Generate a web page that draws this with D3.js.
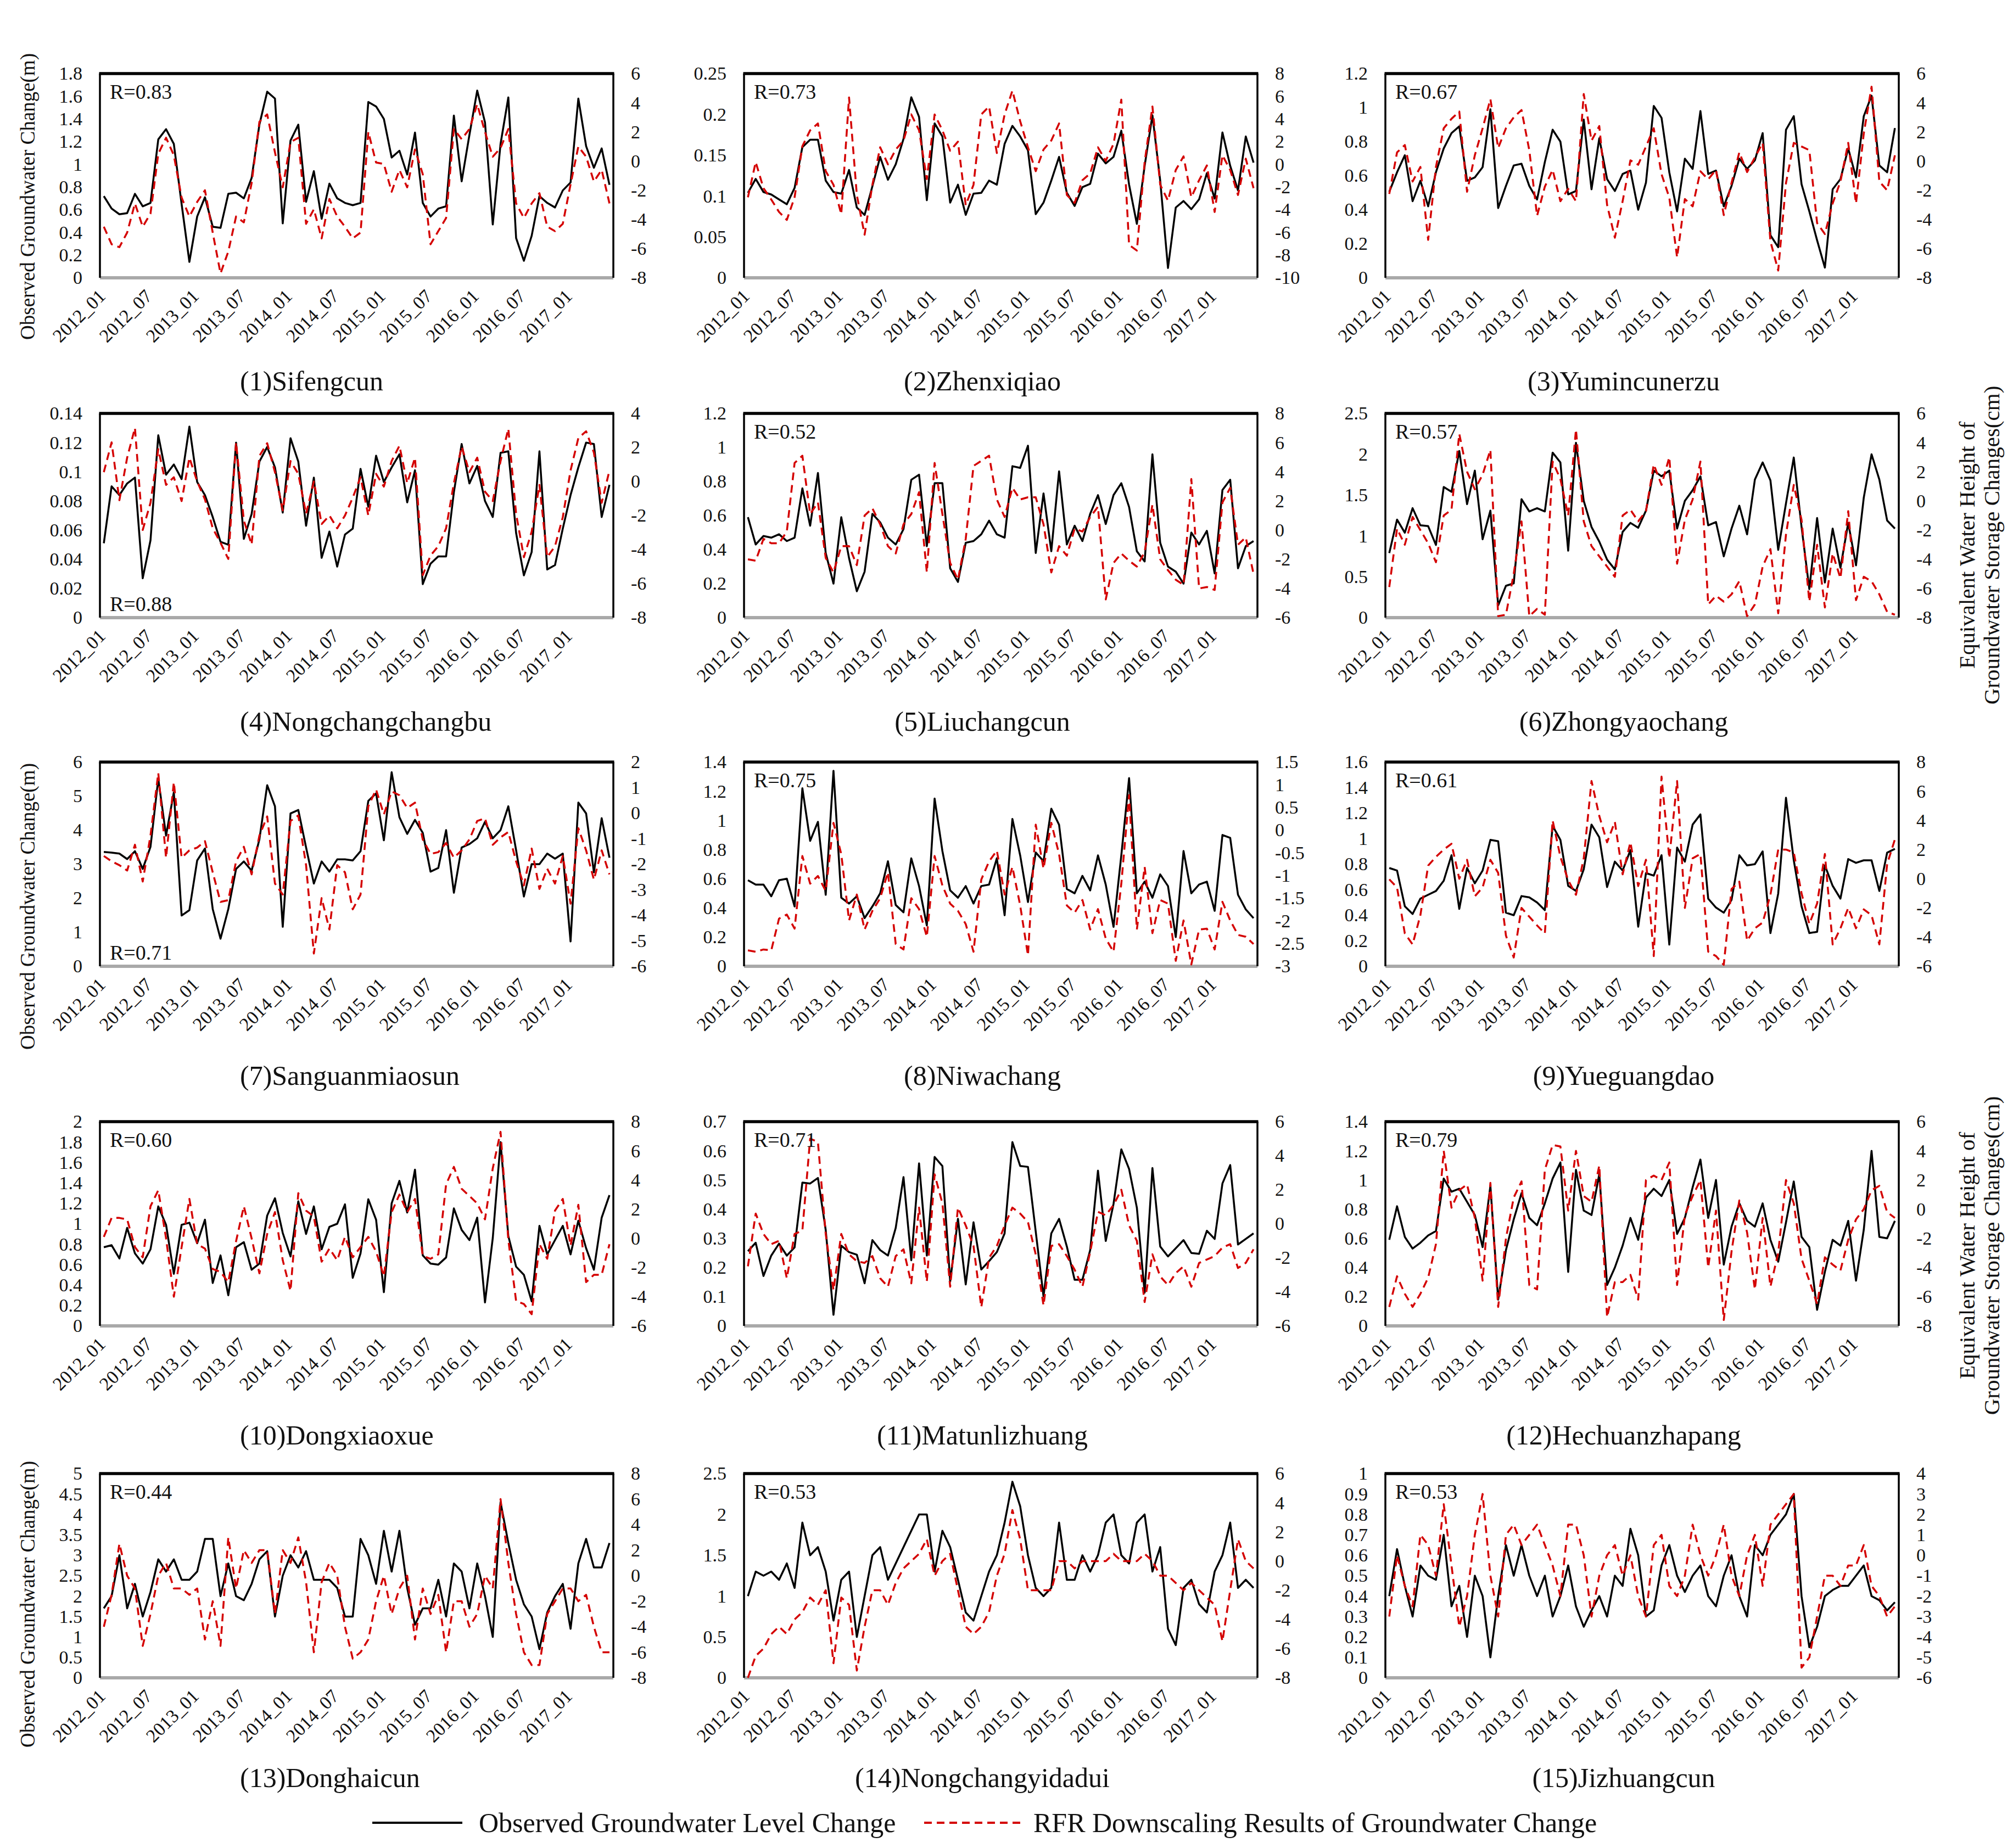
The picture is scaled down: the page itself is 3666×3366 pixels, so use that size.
<!DOCTYPE html>
<html><head><meta charset="utf-8">
<script src="https://cdn.jsdelivr.net/npm/d3@7"></script>
<style>
body{margin:0;background:#fff}
svg{display:block;background:#fff}
text{font-family:"Liberation Serif","Times New Roman",serif;fill:#111}
</style></head>
<body><svg id="c" width="3666" height="3366"></svg>
<script>
const months = ["2012_01","2012_02","2012_03","2012_04","2012_05","2012_06","2012_07","2012_08","2012_09","2012_10","2012_11","2012_12",
"2013_01","2013_02","2013_03","2013_04","2013_05","2013_06","2013_07","2013_08","2013_09","2013_10","2013_11","2013_12",
"2014_01","2014_02","2014_03","2014_04","2014_05","2014_06","2014_07","2014_08","2014_09","2014_10","2014_11","2014_12",
"2015_01","2015_02","2015_03","2015_04","2015_05","2015_06","2015_07","2015_08","2015_09","2015_10","2015_11","2015_12",
"2016_01","2016_02","2016_03","2016_04","2016_05","2016_06","2016_07","2016_08","2016_09","2016_10","2016_11","2016_12",
"2017_01","2017_02","2017_03","2017_04","2017_05","2017_06"];
const tickMonths = ["2012_01","2012_07","2013_01","2013_07","2014_01","2014_07","2015_01","2015_07","2016_01","2016_07","2017_01"];

const stationNames = ["Sifengcun","Zhenxiqiao","Yumincunerzu","Nongchangchangbu","Liuchangcun","Zhongyaochang","Sanguanmiaosun","Niwachang","Yueguangdao","Dongxiaoxue","Matunlizhuang","Hechuanzhapang","Donghaicun","Nongchangyidadui","Jizhuangcun"];
const rValues = ["0.83","0.73","0.67","0.88","0.52","0.57","0.71","0.75","0.61","0.60","0.71","0.79","0.44","0.53","0.53"];

const leftMax   = [1.8,0.25,1.2,0.14,1.2,2.5,6,1.4,1.6,2,0.7,1.4,5,2.5,1];
const leftStep  = [0.2,0.05,0.2,0.02,0.2,0.5,1,0.2,0.2,0.2,0.1,0.2,0.5,0.5,0.1];
const rightMin  = [-8,-10,-8,-8,-6,-8,-6,-3,-6,-6,-6,-8,-8,-8,-6];
const rightMax  = [6,8,6,4,8,6,2,1.5,8,8,6,6,8,6,4];
const rightStep = [2,2,2,2,2,2,1,0.5,2,2,2,2,2,2,1];

const obs1 = [0.72,0.61,0.56,0.57,0.74,0.63,0.66,1.22,1.31,1.18,0.65,0.14,0.54,0.71,0.45,0.44,0.74,0.75,0.70,0.88,1.35,1.64,1.58,0.48,1.21,1.35,0.67,0.94,0.52,0.83,0.70,0.66,0.64,0.66,1.55,1.51,1.40,1.06,1.12,0.91,1.28,0.66,0.54,0.61,0.63,1.43,0.85,1.26,1.65,1.37,0.47,1.18,1.59,0.35,0.15,0.37,0.72,0.66,0.62,0.77,0.84,1.58,1.16,0.97,1.14,0.82];
const rfr1 = [-4.5,-5.7,-5.9,-4.9,-2.9,-4.5,-3.6,0.5,1.6,0.4,-2.5,-3.8,-2.8,-2.0,-4.9,-7.7,-6.2,-3.8,-4.2,-1.5,2.7,3.2,0.6,-1.8,1.3,1.6,-4.3,-3.3,-5.3,-2.6,-3.8,-4.5,-5.3,-4.9,2.0,-0.1,-0.2,-2.1,-0.6,-1.8,0.8,-0.9,-5.7,-4.8,-3.9,2.2,1.5,2.2,3.9,2.0,0.3,0.9,2.2,-2.9,-3.9,-2.9,-2.2,-4.5,-4.8,-4.3,-1.6,1.0,0.3,-1.4,-0.6,-2.9];
const obs2 = [0.104,0.121,0.105,0.102,0.096,0.090,0.110,0.160,0.169,0.169,0.119,0.105,0.103,0.132,0.086,0.077,0.112,0.148,0.120,0.139,0.170,0.221,0.197,0.095,0.189,0.173,0.092,0.114,0.077,0.103,0.104,0.119,0.114,0.164,0.186,0.173,0.156,0.078,0.092,0.119,0.148,0.104,0.088,0.111,0.115,0.152,0.140,0.148,0.180,0.114,0.066,0.137,0.199,0.119,0.012,0.086,0.094,0.084,0.096,0.128,0.097,0.178,0.137,0.107,0.173,0.141];
const rfr2 = [-2.9,0.2,-2.1,-3.1,-4.2,-4.9,-2.9,1.6,3.0,3.6,-0.6,-1.8,-4.4,5.9,-2.7,-6.2,-1.8,1.5,0.0,1.3,2.1,4.4,3.0,-1.3,4.4,3.0,1.2,2.0,-3.6,-1.8,4.4,5.1,1.0,4.4,6.5,3.8,1.5,-0.6,1.3,2.1,3.6,-2.7,-3.4,-1.4,-0.8,1.5,0.3,1.8,5.7,-7.1,-7.6,0.2,5.1,-1.8,-3.2,-0.5,0.7,-2.9,-1.4,-0.1,-4.2,0.8,-0.5,-2.7,0.5,-2.1];
const obs3 = [0.505,0.62,0.72,0.45,0.57,0.42,0.62,0.76,0.85,0.89,0.57,0.59,0.65,0.99,0.41,0.54,0.66,0.67,0.54,0.46,0.68,0.87,0.80,0.49,0.51,0.93,0.52,0.82,0.58,0.51,0.61,0.63,0.40,0.56,1.01,0.94,0.62,0.39,0.70,0.64,0.98,0.61,0.63,0.42,0.54,0.70,0.64,0.69,0.85,0.25,0.18,0.87,0.95,0.55,0.39,0.22,0.06,0.52,0.58,0.76,0.59,0.95,1.07,0.66,0.62,0.88];
const rfr3 = [-2.25,0.6,1.1,-1.4,-0.4,-5.4,-0.4,2.25,2.9,3.4,-2.1,0.4,2.25,4.25,0.9,2.25,3.0,3.5,0.75,-3.75,-1.75,-0.6,-2.75,-1.9,-2.75,4.6,1.4,2.4,-3.0,-5.25,-2.75,0.05,-0.25,1.0,2.25,-0.9,-2.5,-6.6,-2.6,-3.1,-0.7,-1.25,-0.6,-3.7,-1.5,0.6,-0.75,0.25,1.25,-5.5,-7.5,-1.5,1.25,1.0,0.75,-4.25,-5.0,-2.9,-1.4,1.25,-2.9,1.9,5.1,-1.4,-2.0,0.4];
const obs4 = [0.051,0.090,0.084,0.092,0.096,0.027,0.053,0.125,0.098,0.105,0.095,0.131,0.093,0.084,0.069,0.052,0.050,0.120,0.054,0.071,0.107,0.117,0.103,0.072,0.123,0.107,0.063,0.096,0.041,0.059,0.035,0.057,0.061,0.102,0.076,0.111,0.093,0.103,0.112,0.079,0.101,0.023,0.037,0.042,0.042,0.086,0.119,0.092,0.104,0.080,0.069,0.113,0.114,0.058,0.029,0.045,0.114,0.033,0.036,0.061,0.084,0.103,0.120,0.119,0.069,0.091];
const rfr4 = [0.55,2.3,-1.1,1.4,3.15,-2.85,-1.25,1.9,-0.2,0.25,-1.15,1.4,0.0,-1.05,-2.75,-3.6,-4.55,2.3,-2.3,-3.7,1.5,2.25,0.55,-1.7,1.2,0.45,-1.9,0.0,-2.5,-2.0,-2.75,-2.0,-0.95,0.25,-2.0,0.45,-0.3,1.2,2.1,-0.1,1.4,-5.5,-4.35,-3.8,-2.75,-0.1,2.05,0.55,1.4,-0.6,-1.15,1.2,3.1,-1.9,-4.45,-2.95,-0.2,-4.45,-3.8,-2.1,0.65,2.55,2.95,1.7,-1.25,0.65];
const obs5 = [0.59,0.43,0.48,0.47,0.49,0.45,0.47,0.76,0.54,0.85,0.38,0.20,0.59,0.35,0.155,0.27,0.61,0.56,0.47,0.43,0.52,0.81,0.84,0.42,0.79,0.79,0.29,0.21,0.44,0.45,0.49,0.57,0.49,0.47,0.89,0.88,1.01,0.38,0.73,0.39,0.86,0.43,0.54,0.45,0.61,0.72,0.55,0.72,0.79,0.65,0.39,0.33,0.96,0.44,0.30,0.27,0.20,0.50,0.43,0.51,0.26,0.75,0.81,0.29,0.42,0.45];
const rfr5 = [-2.0,-2.1,-0.6,-0.9,-0.9,-0.1,4.6,5.1,1.1,1.9,-1.9,-2.9,-1.1,-1.1,-2.4,1.0,1.5,0.4,-1.1,-1.6,0.4,1.1,2.6,-2.9,4.6,1.1,-2.25,-3.4,-0.6,4.4,4.75,5.1,2.1,0.9,2.9,2.1,2.25,2.25,0.4,-2.9,-1.1,-1.75,0.1,-0.1,0.9,1.6,-4.75,-2.25,-1.6,-2.1,-2.5,-1.5,1.75,-2.0,-2.75,-3.4,-3.75,3.5,-4.0,-3.9,-4.1,1.9,2.9,-1.0,-0.5,-3.0];
const obs6 = [0.79,1.20,1.04,1.34,1.13,1.12,0.89,1.60,1.54,2.04,1.39,1.80,0.96,1.31,0.15,0.39,0.42,1.45,1.30,1.34,1.30,2.02,1.90,0.82,2.14,1.43,1.11,0.93,0.71,0.59,1.05,1.16,1.10,1.31,1.80,1.73,1.80,1.09,1.43,1.56,1.73,1.13,1.17,0.75,1.09,1.37,1.02,1.69,1.90,1.68,0.83,1.40,1.96,1.11,0.35,1.22,0.43,1.09,0.61,1.16,0.64,1.47,2.00,1.69,1.19,1.09];
const rfr6 = [-5.9,-1.9,-3.0,-1.1,-2.0,-2.9,-4.2,-1.0,-0.6,4.6,2.0,0.8,1.8,3.5,-7.9,-7.8,-5.0,-1.4,-7.9,-7.4,-7.8,2.7,1.5,-1.0,4.9,-1.4,-3.1,-3.8,-4.5,-5.2,-1.0,-0.6,-1.4,-0.7,2.5,1.1,3.0,-4.3,-1.3,0.1,2.7,-7.1,-6.5,-6.9,-6.4,-5.5,-7.9,-7.1,-4.5,-3.3,-7.7,-2.3,1.1,-1.3,-6.9,-3.0,-7.3,-3.6,-5.3,-0.7,-6.8,-5.2,-5.5,-6.4,-7.6,-7.8];
const obs7 = [3.36,3.34,3.31,3.15,3.38,2.86,3.51,5.51,3.84,5.11,1.49,1.65,3.11,3.46,1.68,0.81,1.68,2.86,3.08,2.81,3.73,5.32,4.70,1.16,4.49,4.59,3.49,2.43,3.08,2.78,3.14,3.14,3.11,3.38,4.86,5.08,3.70,5.70,4.38,3.89,4.30,3.92,2.78,2.89,4.00,2.16,3.49,3.59,3.76,4.24,3.76,4.00,4.70,3.41,2.05,3.00,3.00,3.31,3.16,3.31,0.73,4.81,4.49,2.76,4.35,3.19];
const rfr7 = [-1.68,-1.89,-2.04,-2.25,-1.24,-2.68,-0.88,1.57,-1.75,1.21,-1.75,-1.46,-1.35,-1.10,-2.32,-3.48,-3.41,-1.89,-1.32,-2.40,-0.88,-0.13,-2.76,-3.19,-0.31,-0.09,-2.04,-5.50,-3.33,-4.56,-2.04,-2.32,-3.77,-3.19,0.27,0.92,-0.05,0.85,0.70,0.20,0.41,-1.03,-1.60,-1.53,-1.17,-1.75,-1.46,-1.03,-0.31,-0.20,-1.24,-0.95,-0.74,-1.89,-2.83,-1.39,-2.97,-2.18,-2.76,-1.68,-3.55,-0.59,-1.46,-2.61,-1.46,-2.40];
const obs8 = [0.59,0.56,0.56,0.48,0.59,0.60,0.41,1.22,0.86,0.99,0.49,1.34,0.47,0.43,0.48,0.33,0.41,0.50,0.72,0.42,0.37,0.74,0.55,0.28,1.15,0.79,0.52,0.47,0.55,0.43,0.55,0.56,0.74,0.35,1.01,0.76,0.44,0.78,0.72,1.08,0.97,0.53,0.50,0.62,0.52,0.76,0.56,0.27,0.76,1.29,0.50,0.58,0.47,0.63,0.55,0.20,0.79,0.50,0.56,0.58,0.38,0.90,0.88,0.49,0.39,0.33];
const rfr8 = [-2.65,-2.68,-2.63,-2.65,-1.95,-1.86,-2.17,-0.57,-1.18,-1.01,-1.34,0.16,-0.53,-1.99,-1.42,-2.19,-1.78,-1.50,-0.93,-2.51,-2.63,-1.50,-1.74,-2.35,-0.57,-1.22,-1.62,-1.78,-2.07,-2.68,-1.09,-0.69,-0.45,-1.42,-0.81,-1.66,-2.76,0.12,-0.85,0.16,-0.53,-1.66,-1.82,-1.54,-2.19,-1.74,-2.39,-2.68,-1.18,0.77,-2.19,-0.81,-2.27,-1.54,-1.62,-2.88,-1.99,-2.96,-2.19,-2.17,-2.63,-1.58,-1.99,-2.31,-2.35,-2.51];
const obs9 = [0.77,0.75,0.47,0.41,0.53,0.56,0.59,0.67,0.87,0.45,0.77,0.65,0.75,0.99,0.98,0.42,0.40,0.55,0.54,0.50,0.44,1.10,0.99,0.63,0.59,0.76,1.11,1.01,0.62,0.82,0.75,0.91,0.31,0.73,0.71,0.87,0.17,0.93,0.82,1.11,1.19,0.53,0.46,0.42,0.52,0.87,0.79,0.80,0.90,0.26,0.57,1.32,0.83,0.47,0.26,0.27,0.79,0.63,0.53,0.84,0.81,0.83,0.83,0.59,0.89,0.92];
const rfr9 = [-0.04,-0.6,-3.75,-4.5,-2.5,0.9,1.5,2.0,2.4,0.0,1.3,-1.2,-0.6,1.3,0.4,-3.9,-5.4,-2.0,-2.6,-3.2,-3.75,4.0,1.5,-0.1,-1.1,1.4,6.7,4.3,2.5,3.9,0.3,2.5,-0.5,1.3,-5.3,7.0,1.4,6.7,-2.0,1.4,1.7,-5.0,-5.3,-5.9,-0.7,-0.2,-4.25,-3.4,-3.0,-1.1,2.0,2.0,1.8,-1.0,-3.1,-1.7,1.7,-4.5,-3.4,-2.0,-3.4,-2.1,-2.5,-4.5,1.0,2.7];
const obs10 = [0.77,0.79,0.66,0.96,0.71,0.61,0.75,1.17,0.99,0.51,0.99,1.01,0.81,1.04,0.42,0.69,0.30,0.77,0.82,0.55,0.61,1.08,1.25,0.91,0.68,1.22,0.90,1.17,0.75,0.97,1.00,1.19,0.47,0.71,1.24,1.04,0.33,1.20,1.42,1.11,1.53,0.69,0.61,0.60,0.67,1.15,0.94,0.84,1.06,0.23,0.86,1.80,0.88,0.58,0.50,0.24,0.98,0.70,0.84,0.98,0.70,1.03,0.76,0.55,1.06,1.28];
const rfr10 = [0.1,1.4,1.4,1.3,-0.6,-1.3,2.2,3.3,0.0,-4.0,-0.6,2.7,-0.4,-0.7,-2.1,-2.3,-3.0,-0.2,2.2,0.0,-2.4,0.3,1.8,-1.5,-3.6,3.1,1.9,1.5,-1.6,-0.7,-1.5,0.1,-1.3,-0.6,0.1,-0.9,-2.6,1.8,3.0,1.8,2.7,-1.2,-1.4,-1.1,3.7,4.9,3.4,2.9,2.4,1.3,4.8,7.3,-0.1,-4.3,-4.5,-5.2,-0.4,-1.4,1.9,2.7,-0.5,2.3,-3.0,-2.5,-2.5,-0.4];
const obs11 = [0.256,0.285,0.171,0.241,0.282,0.241,0.269,0.491,0.488,0.507,0.329,0.038,0.275,0.253,0.244,0.146,0.294,0.260,0.241,0.336,0.510,0.225,0.557,0.241,0.579,0.548,0.152,0.367,0.142,0.355,0.193,0.222,0.253,0.317,0.630,0.548,0.545,0.323,0.101,0.317,0.367,0.272,0.158,0.158,0.260,0.532,0.291,0.418,0.605,0.538,0.405,0.114,0.541,0.272,0.238,0.266,0.294,0.250,0.247,0.326,0.298,0.488,0.551,0.279,0.298,0.317];
const rfr11 = [-2.5,0.6,-0.6,-1.2,-1.0,-3.2,-0.6,-0.4,5.0,4.8,-0.6,-3.9,-0.6,-1.8,-2.2,-2.3,-1.9,-3.2,-3.7,-1.9,-1.5,-3.5,0.95,-3.4,2.9,1.2,-3.7,0.95,-0.1,-1.3,-4.9,-2.0,-1.3,-0.1,0.95,0.6,0.1,-1.8,-4.8,-1.3,-1.2,-1.9,-2.7,-3.7,-1.65,0.7,0.5,1.1,2.0,-0.1,-1.0,-4.6,-1.8,-3.1,-3.6,-2.9,-2.5,-3.7,-2.3,-2.1,-1.9,-1.4,-1.2,-2.6,-2.3,-1.5];
const obs12 = [0.59,0.82,0.61,0.53,0.57,0.62,0.65,1.01,0.92,0.94,0.85,0.76,0.54,0.96,0.18,0.52,0.73,0.91,0.74,0.69,0.84,1.01,1.12,0.37,1.07,0.79,0.76,1.04,0.28,0.40,0.55,0.74,0.59,0.88,0.94,0.89,1.00,0.63,0.74,0.95,1.14,0.74,1.00,0.42,0.68,0.84,0.72,0.68,0.84,0.59,0.44,0.71,0.99,0.61,0.54,0.11,0.37,0.59,0.55,0.72,0.31,0.66,1.20,0.61,0.60,0.72];
const rfr12 = [-6.7,-4.6,-5.8,-6.7,-5.8,-4.7,-2.4,4.0,0.1,1.3,1.7,-0.6,-4.9,1.8,-6.7,-2.0,0.8,1.9,-5.2,-5.5,2.7,4.4,4.3,-0.1,4.0,0.9,0.5,3.0,-7.4,-5.0,-5.0,-4.5,-6.2,2.0,2.3,2.0,3.2,-5.2,-0.4,0.9,2.0,-4.0,-0.1,-7.6,-2.9,0.6,-1.6,-5.5,-0.6,-5.3,-3.0,2.0,0.4,-3.4,-4.9,-6.5,-3.3,-3.8,-4.2,-2.1,-0.7,0.0,1.3,1.6,-0.2,-0.6];
const obs13 = [1.7,2.0,3.0,1.7,2.3,1.5,2.1,2.9,2.6,2.9,2.4,2.4,2.6,3.4,3.4,2.0,2.8,2.0,1.9,2.3,2.9,3.1,1.5,2.5,3.0,2.7,3.1,2.4,2.4,2.4,2.2,1.5,1.5,3.4,3.0,2.3,3.6,2.6,3.6,2.2,1.3,1.7,1.7,2.4,1.5,2.8,2.6,1.7,2.8,2.0,1.0,4.3,3.3,2.4,1.8,1.5,0.7,1.6,2.0,2.3,1.2,2.8,3.4,2.7,2.7,3.3];
const rfr13 = [-4,-1.5,2.5,0,-1,-5.5,-3,0,1,-1,-1,-1.5,-1,-5,-2,-5.5,3,-1,2,1,2,2,-3,2,1,3,-0.5,-6,-0.5,1,0,-4,-6.5,-6,-5,-2,0,-3,-1,0,-5,-1,-3,-1.5,-6,-2,-2,-4,-3,0,-1,6,1,-3,-6,-7,-7,-3,-2,-1,-1,-2,-1.5,-4,-6,-6];
const obs14 = [1.0,1.3,1.25,1.3,1.2,1.4,1.1,1.9,1.5,1.6,1.3,0.7,1.2,1.3,0.5,1.0,1.5,1.6,1.2,1.4,1.6,1.8,2.0,2.0,1.3,1.8,1.6,1.2,0.8,0.7,1.0,1.3,1.5,1.9,2.4,2.1,1.5,1.1,1.0,1.1,1.9,1.2,1.2,1.5,1.3,1.5,1.9,2.0,1.5,1.4,1.9,2.0,1.3,1.6,0.6,0.4,1.1,1.2,0.9,0.8,1.3,1.5,1.9,1.1,1.2,1.1];
const rfr14 = [-8,-6.5,-6,-5,-4.5,-5,-4,-3.5,-2.5,-3,-2,-7,-2.5,-3,-7.5,-4.5,-2,-2,-3,-1.5,-0.5,0,0.5,1.5,-1,0,0.5,-2,-4.5,-5,-4.5,-3.5,-1,0.5,3.5,1.5,-2,-2,-2,-2,0,0,-0.5,0,0,0,0,0.5,0,0,0,0.5,0,-1,-1,-1.5,-2,-1.5,-2,-2.5,-3,-5.5,-2,1.5,0,-0.5];
const obs15 = [0.4,0.63,0.45,0.3,0.55,0.5,0.48,0.7,0.35,0.45,0.2,0.5,0.4,0.1,0.4,0.65,0.5,0.65,0.5,0.4,0.5,0.3,0.4,0.55,0.35,0.25,0.33,0.4,0.3,0.5,0.45,0.73,0.6,0.3,0.33,0.55,0.65,0.5,0.42,0.5,0.55,0.4,0.35,0.5,0.6,0.4,0.3,0.65,0.6,0.7,0.75,0.8,0.9,0.4,0.15,0.25,0.4,0.43,0.45,0.45,0.5,0.55,0.4,0.38,0.33,0.37];
const rfr15 = [-3,0,-1.5,-2.5,1,0.5,-1,2.5,-0.5,-3.5,-2,1,3,-1,-3,1,1.5,0.5,1,1.5,0.5,-0.5,-2,1.5,1.5,0,-3,-1,0,0.5,-1,0,-2,-3,0.5,1,-1.5,-2,-1,1.5,0,-1,0,1.5,-1,-2,0,1,-1.5,1.5,2,2.5,3,-5.5,-5,-3,-1,-1,-1.5,-0.5,-0.5,0.5,-1.5,-2,-3,-2.5];

const obsAll = [obs1,obs2,obs3,obs4,obs5,obs6,obs7,obs8,obs9,obs10,obs11,obs12,obs13,obs14,obs15];
const rfrAll = [rfr1,rfr2,rfr3,rfr4,rfr5,rfr6,rfr7,rfr8,rfr9,rfr10,rfr11,rfr12,rfr13,rfr14,rfr15];

// ---------- layout ----------
const FONT = '"Liberation Serif","Times New Roman",serif';
const svg = d3.select("#c");
const colX = [182, 1355, 2523], rowY = [134, 753, 1388, 2043, 2684];
const PW = 935, PH = 372;
const titleY = [694, 1314, 1959, 2614, 3238];
const titleX = [437, 1789, 2957], titleAnchor = ["start","middle","middle"];
const RED = "#d40000";
const fmt = v => String(+v.toFixed(4));
const rng = (a, b, s) => d3.range(0, Math.round((b - a) / s) + 1).map(i => +(a + i * s).toFixed(4));

obsAll.forEach((obs, k) => {
  const r = Math.floor(k / 3), c = k % 3;
  const g = svg.append("g").attr("transform", `translate(${colX[c]},${rowY[r]})`);
  const x = d3.scalePoint().domain(months).range([0, PW]).padding(0.5);
  const yL = d3.scaleLinear().domain([0, leftMax[k]]).range([PH, 0]);
  const yR = d3.scaleLinear().domain([rightMin[k], rightMax[k]]).range([PH, 0]);

  // axes
  const ax = g.append("g").call(d3.axisLeft(yL).tickValues(rng(0, leftMax[k], leftStep[k])).tickSize(0).tickPadding(32).tickFormat(fmt));
  const axR = g.append("g").attr("transform", `translate(${PW},0)`)
    .call(d3.axisRight(yR).tickValues(rng(rightMin[k], rightMax[k], rightStep[k])).tickSize(0).tickPadding(32).tickFormat(fmt));
  const axB = g.append("g").attr("transform", `translate(0,${PH})`)
    .call(d3.axisBottom(x).tickValues(tickMonths).tickSize(0));
  [ax, axR, axB].forEach(a => {
    a.select(".domain").remove();
    a.attr("font-family", FONT).attr("font-size", 34);
    a.selectAll("text").attr("fill", "#1a1a1a");
  });
  axB.selectAll("text").attr("y", 0).attr("dy", "0.35em")
    .attr("text-anchor", "end").attr("transform", "translate(-4,27) rotate(-45)");

  // frame
  g.append("line").attr("x1", 0).attr("x2", PW).attr("y1", PH).attr("y2", PH)
    .attr("stroke", "#a9a9a9").attr("stroke-width", 6);
  g.append("line").attr("x1", 0).attr("x2", 0).attr("y1", 0).attr("y2", PH)
    .attr("stroke", "#000").attr("stroke-width", 3.5);
  g.append("line").attr("x1", PW).attr("x2", PW).attr("y1", 0).attr("y2", PH)
    .attr("stroke", "#000").attr("stroke-width", 3.5);
  g.append("line").attr("x1", -1.5).attr("x2", PW + 1.5).attr("y1", 0).attr("y2", 0)
    .attr("stroke", "#000").attr("stroke-width", 5.5);

  // series
  g.append("path").datum(obs)
    .attr("d", d3.line().x((d, i) => x(months[i])).y(d => yL(d)))
    .attr("fill", "none").attr("stroke", "#000").attr("stroke-width", 3.5)
    .attr("stroke-linejoin", "round");
  g.append("path").datum(rfrAll[k])
    .attr("d", d3.line().x((d, i) => x(months[i])).y(d => yR(d)))
    .attr("fill", "none").attr("stroke", RED).attr("stroke-width", 3.5)
    .attr("stroke-dasharray", "14,9").attr("stroke-linejoin", "round");

  // R label
  const bottomR = (k === 3 || k === 6);
  g.append("text").attr("x", 18).attr("y", bottomR ? PH - 12 : 46)
    .attr("font-size", 38).text("R=" + rValues[k]);

  // panel title
  svg.append("text").attr("x", titleX[c]).attr("y", titleY[r])
    .attr("text-anchor", titleAnchor[c]).attr("dominant-baseline", "central")
    .attr("font-size", 50).text(`(${k + 1})${stationNames[k]}`);
});

// left axis titles
[358, 1651, 2922].forEach(cy => {
  svg.append("text").attr("transform", `translate(50,${cy}) rotate(-90)`)
    .attr("text-anchor", "middle").attr("dominant-baseline", "central")
    .attr("font-size", 37).text("Observed Groundwater Change(m)");
});
// right axis titles
[993, 2287].forEach(cy => {
  svg.append("text").attr("transform", `translate(3582,${cy}) rotate(-90)`)
    .attr("text-anchor", "middle").attr("dominant-baseline", "central")
    .attr("font-size", 41).text("Equivalent Water Height of");
  svg.append("text").attr("transform", `translate(3627,${cy}) rotate(-90)`)
    .attr("text-anchor", "middle").attr("dominant-baseline", "central")
    .attr("font-size", 41).text("Groundwater Storage Changes(cm)");
});

// legend
const lg = svg.append("g").attr("transform", "translate(0,3320)");
lg.append("line").attr("x1", 678).attr("x2", 842).attr("y1", 0).attr("y2", 0)
  .attr("stroke", "#000").attr("stroke-width", 4);
lg.append("text").attr("x", 872).attr("y", 0).attr("dominant-baseline", "central")
  .attr("font-size", 50).text("Observed Groundwater Level Change");
lg.append("line").attr("x1", 1683).attr("x2", 1859).attr("y1", 0).attr("y2", 0)
  .attr("stroke", RED).attr("stroke-width", 4).attr("stroke-dasharray", "14,9");
lg.append("text").attr("x", 1882).attr("y", 0).attr("dominant-baseline", "central")
  .attr("font-size", 50).text("RFR Downscaling Results of Groundwater Change");
</script>
</body></html>
